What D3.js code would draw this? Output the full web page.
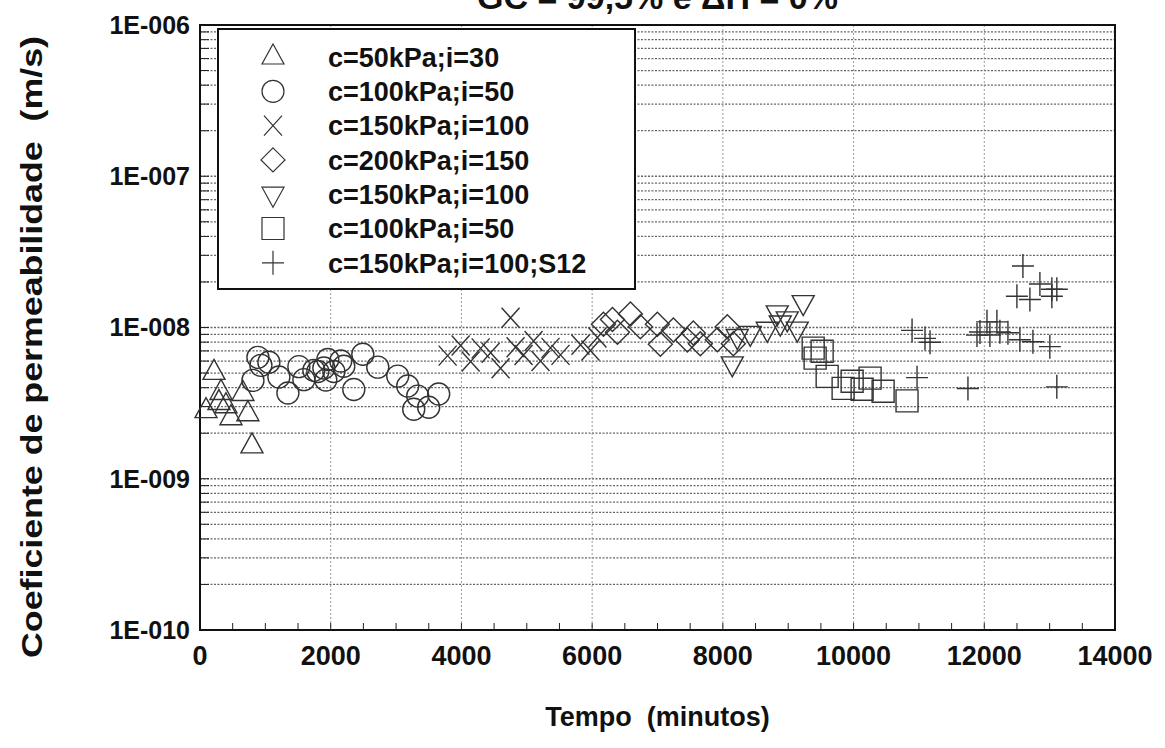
<!DOCTYPE html>
<html>
<head>
<meta charset="utf-8">
<script src="https://cdn.jsdelivr.net/npm/d3@7"></script>
<style>
body { margin: 0; background: #fff; }
text { font-family: "Liberation Sans", Arial, sans-serif; font-weight: bold; fill: #111; }
</style>
</head>
<body>
<div id="chart"></div>
<script>
// series: [tempo (min), k (m/s)]
var serieA = [[92,2.82e-9],[214,5.05e-9],[290,3.19e-9],[321,3.72e-9],[397,3.04e-9],[474,2.53e-9],[657,3.66e-9],[733,2.69e-9],[795,1.65e-9]];
var serieB = [[810,4.47e-9],[886,6.35e-9],[932,5.62e-9],[1054,5.89e-9],[1207,4.71e-9],[1345,3.69e-9],[1513,5.51e-9],[1589,4.52e-9],[1742,5.21e-9],[1803,5.12e-9],[1895,5.4e-9],[1925,4.5e-9],[1956,6.15e-9],[2048,5.12e-9],[2154,6.0e-9],[2200,5.54e-9],[2353,3.89e-9],[2491,6.65e-9],[2720,5.47e-9],[3025,4.77e-9],[3178,4.1e-9],[3270,2.88e-9],[3331,3.52e-9],[3499,2.97e-9],[3652,3.63e-9]];
var serieC = [[3789,6.52e-9],[3988,7.61e-9],[4141,5.96e-9],[4294,7.28e-9],[4447,6.8e-9],[4599,5.37e-9],[4752,1.16e-8],[4828,7.4e-9],[4951,6.57e-9],[5104,8.15e-9],[5210,6.0e-9],[5363,7.33e-9],[5516,6.59e-9],[5822,7.7e-9],[5974,7.04e-9],[6081,8.59e-9]];
var serieD = [[6173,1.05e-8],[6311,1.13e-8],[6387,9.29e-9],[6586,1.23e-8],[6738,1.01e-8],[6998,1.05e-8],[7044,7.76e-9],[7243,9.64e-9],[7457,8.28e-9],[7548,9.2e-9],[7655,7.8e-9],[7915,8.3e-9],[8068,1.01e-8],[8160,7.82e-9]];
var serieE = [[8144,5.75e-9],[8221,8.71e-9],[8419,9.14e-9],[8679,9.73e-9],[8832,1.25e-8],[8878,1.07e-8],[8985,1.14e-8],[9138,9.76e-9],[9229,1.46e-8]];
var serieF = [[9382,7.3e-9],[9412,6.27e-9],[9519,6.97e-9],[9596,4.75e-9],[9840,3.96e-9],[9978,4.41e-9],[10131,3.91e-9],[10253,4.63e-9],[10452,3.79e-9],[10818,3.27e-9]];
var serieG = [[10895,9.57e-9],[10971,4.66e-9],[11093,8.47e-9],[11170,7.98e-9],[11750,3.95e-9],[11888,8.91e-9],[11934,9.33e-9],[12041,1.09e-8],[12086,8.93e-9],[12193,1.09e-8],[12239,9.36e-9],[12362,9.23e-9],[12499,1.61e-8],[12545,8.29e-9],[12591,2.55e-8],[12698,1.53e-8],[12744,8.05e-9],[12851,1.94e-8],[13003,7.47e-9],[13034,1.79e-8],[13034,1.61e-8],[13110,1.79e-8],[13110,4.05e-9]];

var legendLabels = ["c=50kPa;i=30", "c=100kPa;i=50", "c=150kPa;i=100", "c=200kPa;i=150", "c=150kPa;i=100", "c=100kPa;i=50", "c=150kPa;i=100;S12"];
var xTicks = [0, 2000, 4000, 6000, 8000, 10000, 12000, 14000];
var yTicks = [1e-10, 1e-9, 1e-8, 1e-7, 1e-6];
var titleText = "GC = 99,5% e \u0394H = 0%";

var width = 1165,
	height = 748,
	margin = {top: 25, right: 50, bottom: 118, left: 200},
	w = width - margin.left - margin.right,
	h = height - margin.top - margin.bottom;

var marker = {
	tri: "M0,-13L11,7L-11,7Z",
	circle: "M11,0A11,11 0 1,1 -11,0A11,11 0 1,1 11,0Z",
	cross: "M-9,-10L9,10M-9,10L9,-10",
	diamond: "M0,-12L12,0L0,12L-12,0Z",
	down: "M0,13L11,-7L-11,-7Z",
	square: "M-11,-11H11V11H-11Z",
	plus: "M-11,0H11M0,-12V12"
};
var series = [
	{data: serieA, shape: "tri"},
	{data: serieB, shape: "circle"},
	{data: serieC, shape: "cross"},
	{data: serieD, shape: "diamond"},
	{data: serieE, shape: "down"},
	{data: serieF, shape: "square"},
	{data: serieG, shape: "plus"}
];

var svg = d3.select('#chart')
	.append('svg')
	.attr('width', width)
	.attr('height', height);

var x = d3.scaleLinear().domain([0, 14000]).range([0, w]),
	y = d3.scaleLog().domain([1e-10, 1e-6]).range([h, 0]);

// title, mostly cut off by the page top (as in the scan)
svg.append('text')
	.attr('x', margin.left + w / 2)
	.attr('y', 9)
	.attr('text-anchor', 'middle')
	.style('font-size', '34px')
	.text(titleText);

var g = svg.append('g').attr('transform', 'translate(' + margin.left + ',' + margin.top + ')');

// horizontal grid (log minors)
g.append('g').selectAll('line')
	.data(y.ticks())
	.enter().append('line')
	.attr('x1', 0).attr('x2', w)
	.attr('y1', d => y(d)).attr('y2', d => y(d))
	.style('stroke', '#666')
	.style('stroke-width', 1.3)
	.style('stroke-dasharray', '2,1.5');

// vertical grid
g.append('g').selectAll('line')
	.data(xTicks.slice(1, -1))
	.enter().append('line')
	.attr('x1', d => x(d)).attr('x2', d => x(d))
	.attr('y1', 0).attr('y2', h)
	.style('stroke', '#999')
	.style('stroke-width', 1)
	.style('stroke-dasharray', '2,2');

// inner ticks
g.append('g').selectAll('line')
	.data(y.ticks())
	.enter().append('line')
	.attr('x1', 0).attr('x2', 9)
	.attr('y1', d => y(d)).attr('y2', d => y(d))
	.style('stroke', '#222');
g.append('g').selectAll('line')
	.data(d3.range(500, 14000, 500))
	.enter().append('line')
	.attr('x1', d => x(d)).attr('x2', d => x(d))
	.attr('y1', h).attr('y2', h - 7)
	.style('stroke', '#222');

// frame
g.append('rect')
	.attr('width', w).attr('height', h)
	.style('fill', 'none')
	.style('stroke', '#111')
	.style('stroke-width', 2);

// axis labels
g.append('g').selectAll('text')
	.data(yTicks)
	.enter().append('text')
	.attr('x', -10)
	.attr('y', d => y(d))
	.attr('dy', '0.35em')
	.attr('text-anchor', 'end')
	.style('font-size', '25px')
	.text(d => '1E-' + String(-Math.round(Math.log10(d))).padStart(3, '0'));

g.append('g').selectAll('text')
	.data(xTicks)
	.enter().append('text')
	.attr('x', d => x(d))
	.attr('y', h + 35)
	.attr('text-anchor', 'middle')
	.style('font-size', '27px')
	.text(d => d);

svg.append('text')
	.attr('x', margin.left + w / 2)
	.attr('y', 726)
	.attr('text-anchor', 'middle')
	.style('font-size', '27px')
	.text('Tempo\u00a0 (minutos)');

svg.append('text')
	.attr('transform', 'translate(42,' + (margin.top + 322) + ')rotate(-90)')
	.attr('text-anchor', 'middle')
	.attr('textLength', 622)
	.attr('lengthAdjust', 'spacingAndGlyphs')
	.style('font-size', '29px')
	.text('Coeficiente de permeabilidade\u00a0 (m/s)');

// points
series.forEach(function(s) {
	g.append('g').selectAll('path')
		.data(s.data)
		.enter().append('path')
		.attr('transform', d => 'translate(' + x(d[0]) + ',' + y(d[1]) + ')')
		.attr('d', marker[s.shape])
		.style('fill', 'none')
		.style('stroke', '#333')
		.style('stroke-width', 1.4);
});

// legend
var lg = g.append('g').attr('transform', 'translate(18,4)');
lg.append('rect')
	.attr('width', 417).attr('height', 260)
	.style('fill', '#fff')
	.style('stroke', '#111')
	.style('stroke-width', 2);
var row = lg.selectAll('.row')
	.data(legendLabels)
	.enter().append('g')
	.attr('class', 'row')
	.attr('transform', (d, i) => 'translate(55,' + (28 + i * 34.3) + ')');
row.append('path')
	.attr('d', (d, i) => marker[series[i].shape])
	.style('fill', 'none')
	.style('stroke', '#333')
	.style('stroke-width', 1.2);
row.append('text')
	.attr('x', 55)
	.attr('dy', '0.36em')
	.style('font-size', '27px')
	.text(d => d);
</script>
</body>
</html>
